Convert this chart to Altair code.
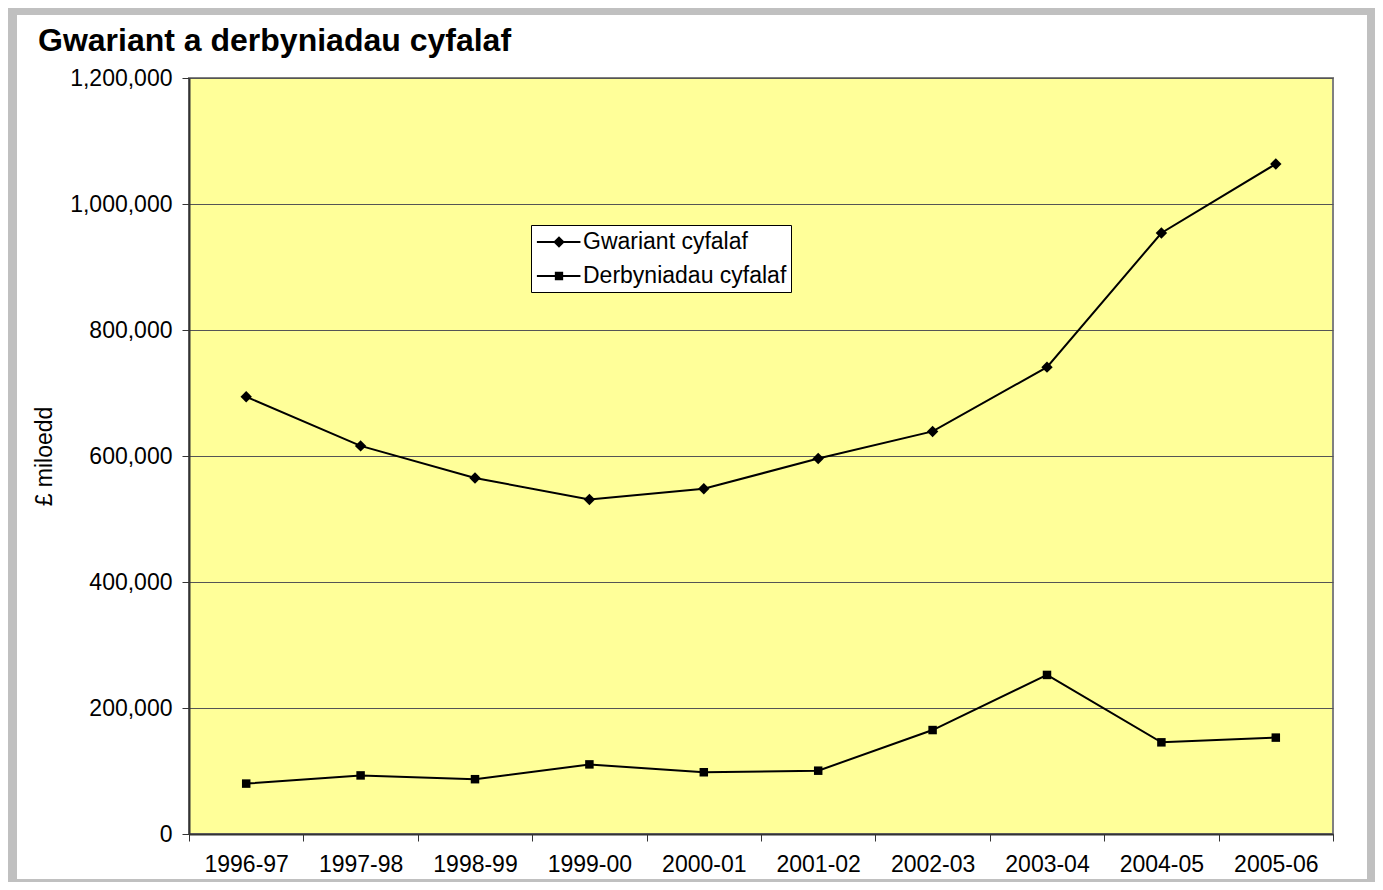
import altair as alt
import pandas as pd

years = ["1996-97", "1997-98", "1998-99", "1999-00", "2000-01",
         "2001-02", "2002-03", "2003-04", "2004-05", "2005-06"]
gwariant = [694000, 616000, 565000, 531000, 548000, 596000, 639000, 741000, 954000, 1063500]
derbyniadau = [80000, 93000, 87000, 110500, 98000, 100500, 165000, 252500, 145500, 153000]
series_names = ["Gwariant cyfalaf", "Derbyniadau cyfalaf"]
y_ticks = [0, 200000, 400000, 600000, 800000, 1000000, 1200000]

rows = []
for s, vals in zip(series_names, [gwariant, derbyniadau]):
    for yr, v in zip(years, vals):
        rows.append({"year": yr, "series": s, "value": v})
df = pd.DataFrame(rows)

W, H = 1144, 756
FONT = "Liberation Sans"

x_enc = alt.X(
    "year:N", sort=years,
    scale=alt.Scale(type="band", paddingInner=0, paddingOuter=0),
    axis=alt.Axis(title=None, tickBand="extent", labelAngle=0, labelFontSize=23,
                  labelFont=FONT, labelColor="black", labelPadding=12, tickSize=7,
                  tickColor="#333333", domainColor="#333333", domainWidth=2, grid=False),
)
y_enc = alt.Y(
    "value:Q",
    scale=alt.Scale(domain=[0, 1200000], nice=False),
    axis=alt.Axis(values=y_ticks, format=",d", title="£ miloedd", labelFontSize=23,
                  labelFont=FONT, labelColor="black", labelPadding=10, tickSize=7,
                  tickColor="#333333", domainColor="#333333", domainWidth=2,
                  gridColor="#555555", gridWidth=1,
                  titleFont=FONT, titleFontSize=23, titleFontWeight="normal",
                  titleColor="black", titleX=-145, titleY=378, titleAngle=270,
                  titleAlign="center", titleBaseline="middle"),
)

# legend symbols: line segment (thin filled bar) with the series marker on it
leg_d = "M-1.7,-0.077H1.65V0.077H-1.7ZM0,-0.44L0.44,0L0,0.44L-0.44,0Z"
leg_s = "M-1.7,-0.077H1.65V0.077H-1.7ZM-0.32,-0.32H0.32V0.32H-0.32Z"

frame = alt.Chart(alt.Data(values=[{}])).mark_rect(
    fill="white", fillOpacity=0, stroke="#C0C0C0", strokeWidth=10
).encode(x=alt.value(-177), x2=alt.value(1183), y=alt.value(-68), y2=alt.value(806))

lines = alt.Chart(df).mark_line(color="black", strokeWidth=2).encode(
    x=x_enc, y=y_enc, detail="series:N"
)

pts_g = alt.Chart(df).transform_filter(
    alt.datum.series == series_names[0]
).mark_point(filled=True, color="black", opacity=1, shape="diamond", size=130).encode(
    x=x_enc, y=y_enc
)
pts_d = alt.Chart(df).transform_filter(
    alt.datum.series == series_names[1]
).mark_point(filled=True, color="black", opacity=1, shape="square", size=72).encode(
    x=x_enc, y=y_enc
)

legend_layer = alt.Chart(df).transform_filter("false").mark_point(
    filled=True, color="black", opacity=1
).encode(
    x=x_enc, y=y_enc,
    shape=alt.Shape(
        "series:N",
        scale=alt.Scale(domain=series_names, range=[leg_d, leg_s]),
        legend=alt.Legend(
            orient="none", legendX=342, legendY=147, title=None,
            fillColor="white", strokeColor="black", padding=4,
            symbolSize=676, symbolFillColor="black", symbolStrokeWidth=0,
            symbolOffset=11,
            labelFontSize=23, labelFont=FONT, labelColor="black", labelLimit=400,
            labelOffset=11, rowPadding=9,
        ),
    ),
)

chart = alt.layer(frame, lines, pts_g, pts_d, legend_layer).properties(
    width=W, height=H,
    title=alt.TitleParams("Gwariant a derbyniadau cyfalaf", anchor="start", frame="group",
                          fontSize=32, font=FONT, fontWeight="bold", color="black",
                          dx=-151, dy=104, offset=26, baseline="alphabetic"),
    autosize=alt.AutoSizeParams(type="none"),
    padding={"left": 181, "top": 70, "right": 42, "bottom": 48},
    background="white",
).configure_view(
    fill="#FFFF99", stroke="#808080", strokeWidth=2
)

chart.save("out.html", embed_options={"renderer": "svg", "actions": False})
